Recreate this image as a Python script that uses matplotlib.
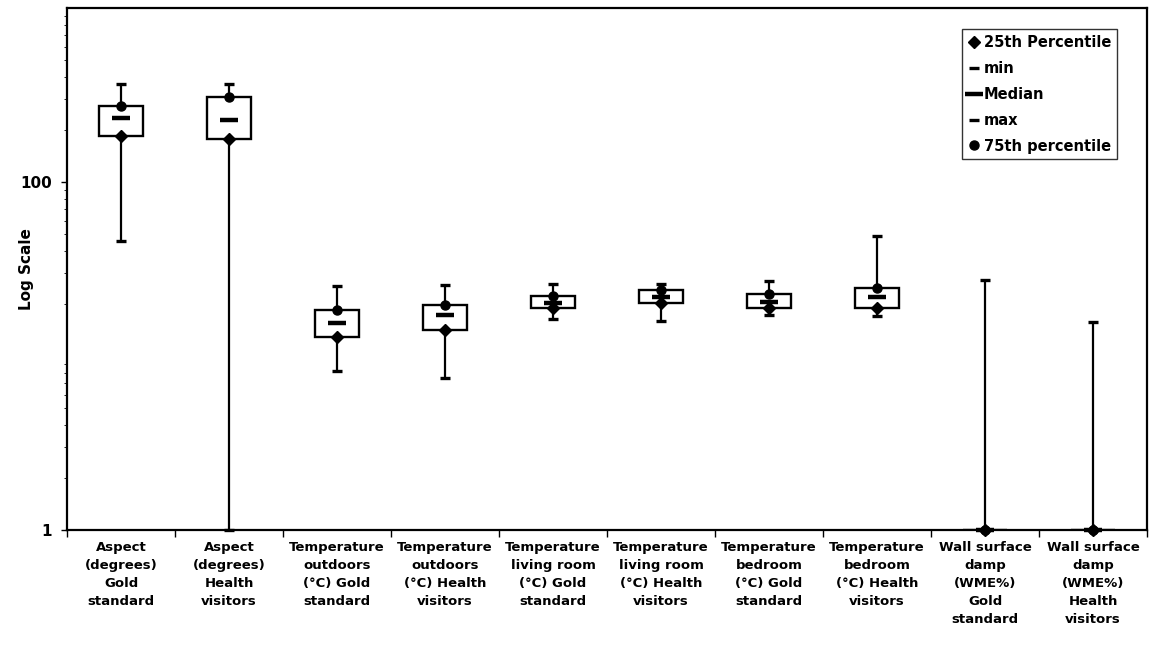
import numpy as np
import matplotlib
matplotlib.use("Agg")
import matplotlib.pyplot as plt
from matplotlib.ticker import FixedLocator, LogLocator, NullFormatter

labels = [
    "Aspect\n(degrees)\nGold\nstandard",
    "Aspect\n(degrees)\nHealth\nvisitors",
    "Temperature\noutdoors\n(°C) Gold\nstandard",
    "Temperature\noutdoors\n(°C) Health\nvisitors",
    "Temperature\nliving room\n(°C) Gold\nstandard",
    "Temperature\nliving room\n(°C) Health\nvisitors",
    "Temperature\nbedroom\n(°C) Gold\nstandard",
    "Temperature\nbedroom\n(°C) Health\nvisitors",
    "Wall surface\ndamp\n(WME%)\nGold\nstandard",
    "Wall surface\ndamp\n(WME%)\nHealth\nvisitors",
]

p25 = [184, 177, 12.8, 14.1, 18.9, 20.2, 18.9, 18.9, 1, 1]
mins = [46, 1, 8.2, 7.5, 16.3, 15.9, 17.2, 17.0, 1, 1]
median = [233, 227, 15.4, 17.2, 20.2, 21.8, 20.4, 21.8, 1, 1]
maxs = [366, 366, 25.3, 25.6, 25.9, 25.9, 27.0, 48.9, 27.3, 15.7]
p75 = [273, 308, 18.4, 19.6, 22.1, 23.9, 22.7, 24.6, 1, 1]

x = np.arange(len(labels))

fig = plt.figure(figsize=(11.58, 6.68), dpi=100)
ax = fig.add_axes([0.0579, 0.2066, 0.9326, 0.7814])
ax.set_yscale("log")

# high-low lines
ax.vlines(x, mins, maxs, color="black", lw=1.6, zorder=1)

# 25th-75th boxes
lo = np.array(p25)
hi = np.array(p75)
ax.bar(x, hi - lo, bottom=lo, width=0.4, color="white",
       edgecolor="black", linewidth=1.7, zorder=2)

ax.plot(x, p25, ls="none", marker="D", ms=6, color="black",
        label="25th Percentile", zorder=4, clip_on=False)
ax.plot(x, mins, ls="none", marker="_", ms=7, mew=2.4, color="black",
        label="min", zorder=4, clip_on=False)
ax.plot(x, median, ls="none", marker="_", ms=13, mew=3.2, color="black",
        label="Median", zorder=4, clip_on=False)
ax.plot(x, maxs, ls="none", marker="_", ms=7, mew=2.4, color="black",
        label="max", zorder=4, clip_on=False)
ax.plot(x, p75, ls="none", marker="o", ms=6.5, color="black",
        label="75th percentile", zorder=4, clip_on=False)

ax.set_xlim(-0.5, len(labels) - 0.5)
ax.set_ylim(1, 1000)

ax.set_xticks(x)
ax.set_xticklabels(labels, fontsize=9.5, fontweight="bold", linespacing=1.5)
ax.set_xticks(np.arange(-0.5, len(labels)), minor=True)
ax.tick_params(axis="x", which="major", length=0, pad=8)
ax.tick_params(axis="x", which="minor", length=5, width=1, direction="out")

ax.yaxis.set_major_locator(FixedLocator([1, 100]))
ax.yaxis.set_major_formatter(matplotlib.ticker.FuncFormatter(lambda v, p: f"{v:g}"))
ax.yaxis.set_minor_locator(LogLocator(base=10, subs=np.arange(2, 10)))
ax.yaxis.set_minor_formatter(NullFormatter())
ax.tick_params(axis="y", which="major", length=4, width=1, labelsize=11, pad=7)
ax.tick_params(axis="y", which="minor", length=2, width=0.6)
for t in ax.get_yticklabels():
    t.set_fontweight("bold")

ax.set_ylabel("Log Scale", fontsize=11, fontweight="bold")
ax.yaxis.set_label_coords(-0.031, 0.5)

for s in ax.spines.values():
    s.set_linewidth(1.6)

leg = ax.legend(loc="upper right", bbox_to_anchor=(0.9646, 0.9566),
                bbox_transform=fig.transFigure, frameon=True, fancybox=False,
                edgecolor="black", fontsize=10.5, handlelength=0.8,
                handletextpad=0.3, labelspacing=0.75, borderpad=0.4,
                borderaxespad=0)
leg.get_frame().set_linewidth(1.0)
for t in leg.get_texts():
    t.set_fontweight("bold")

fig.savefig("out.png", dpi=100)
